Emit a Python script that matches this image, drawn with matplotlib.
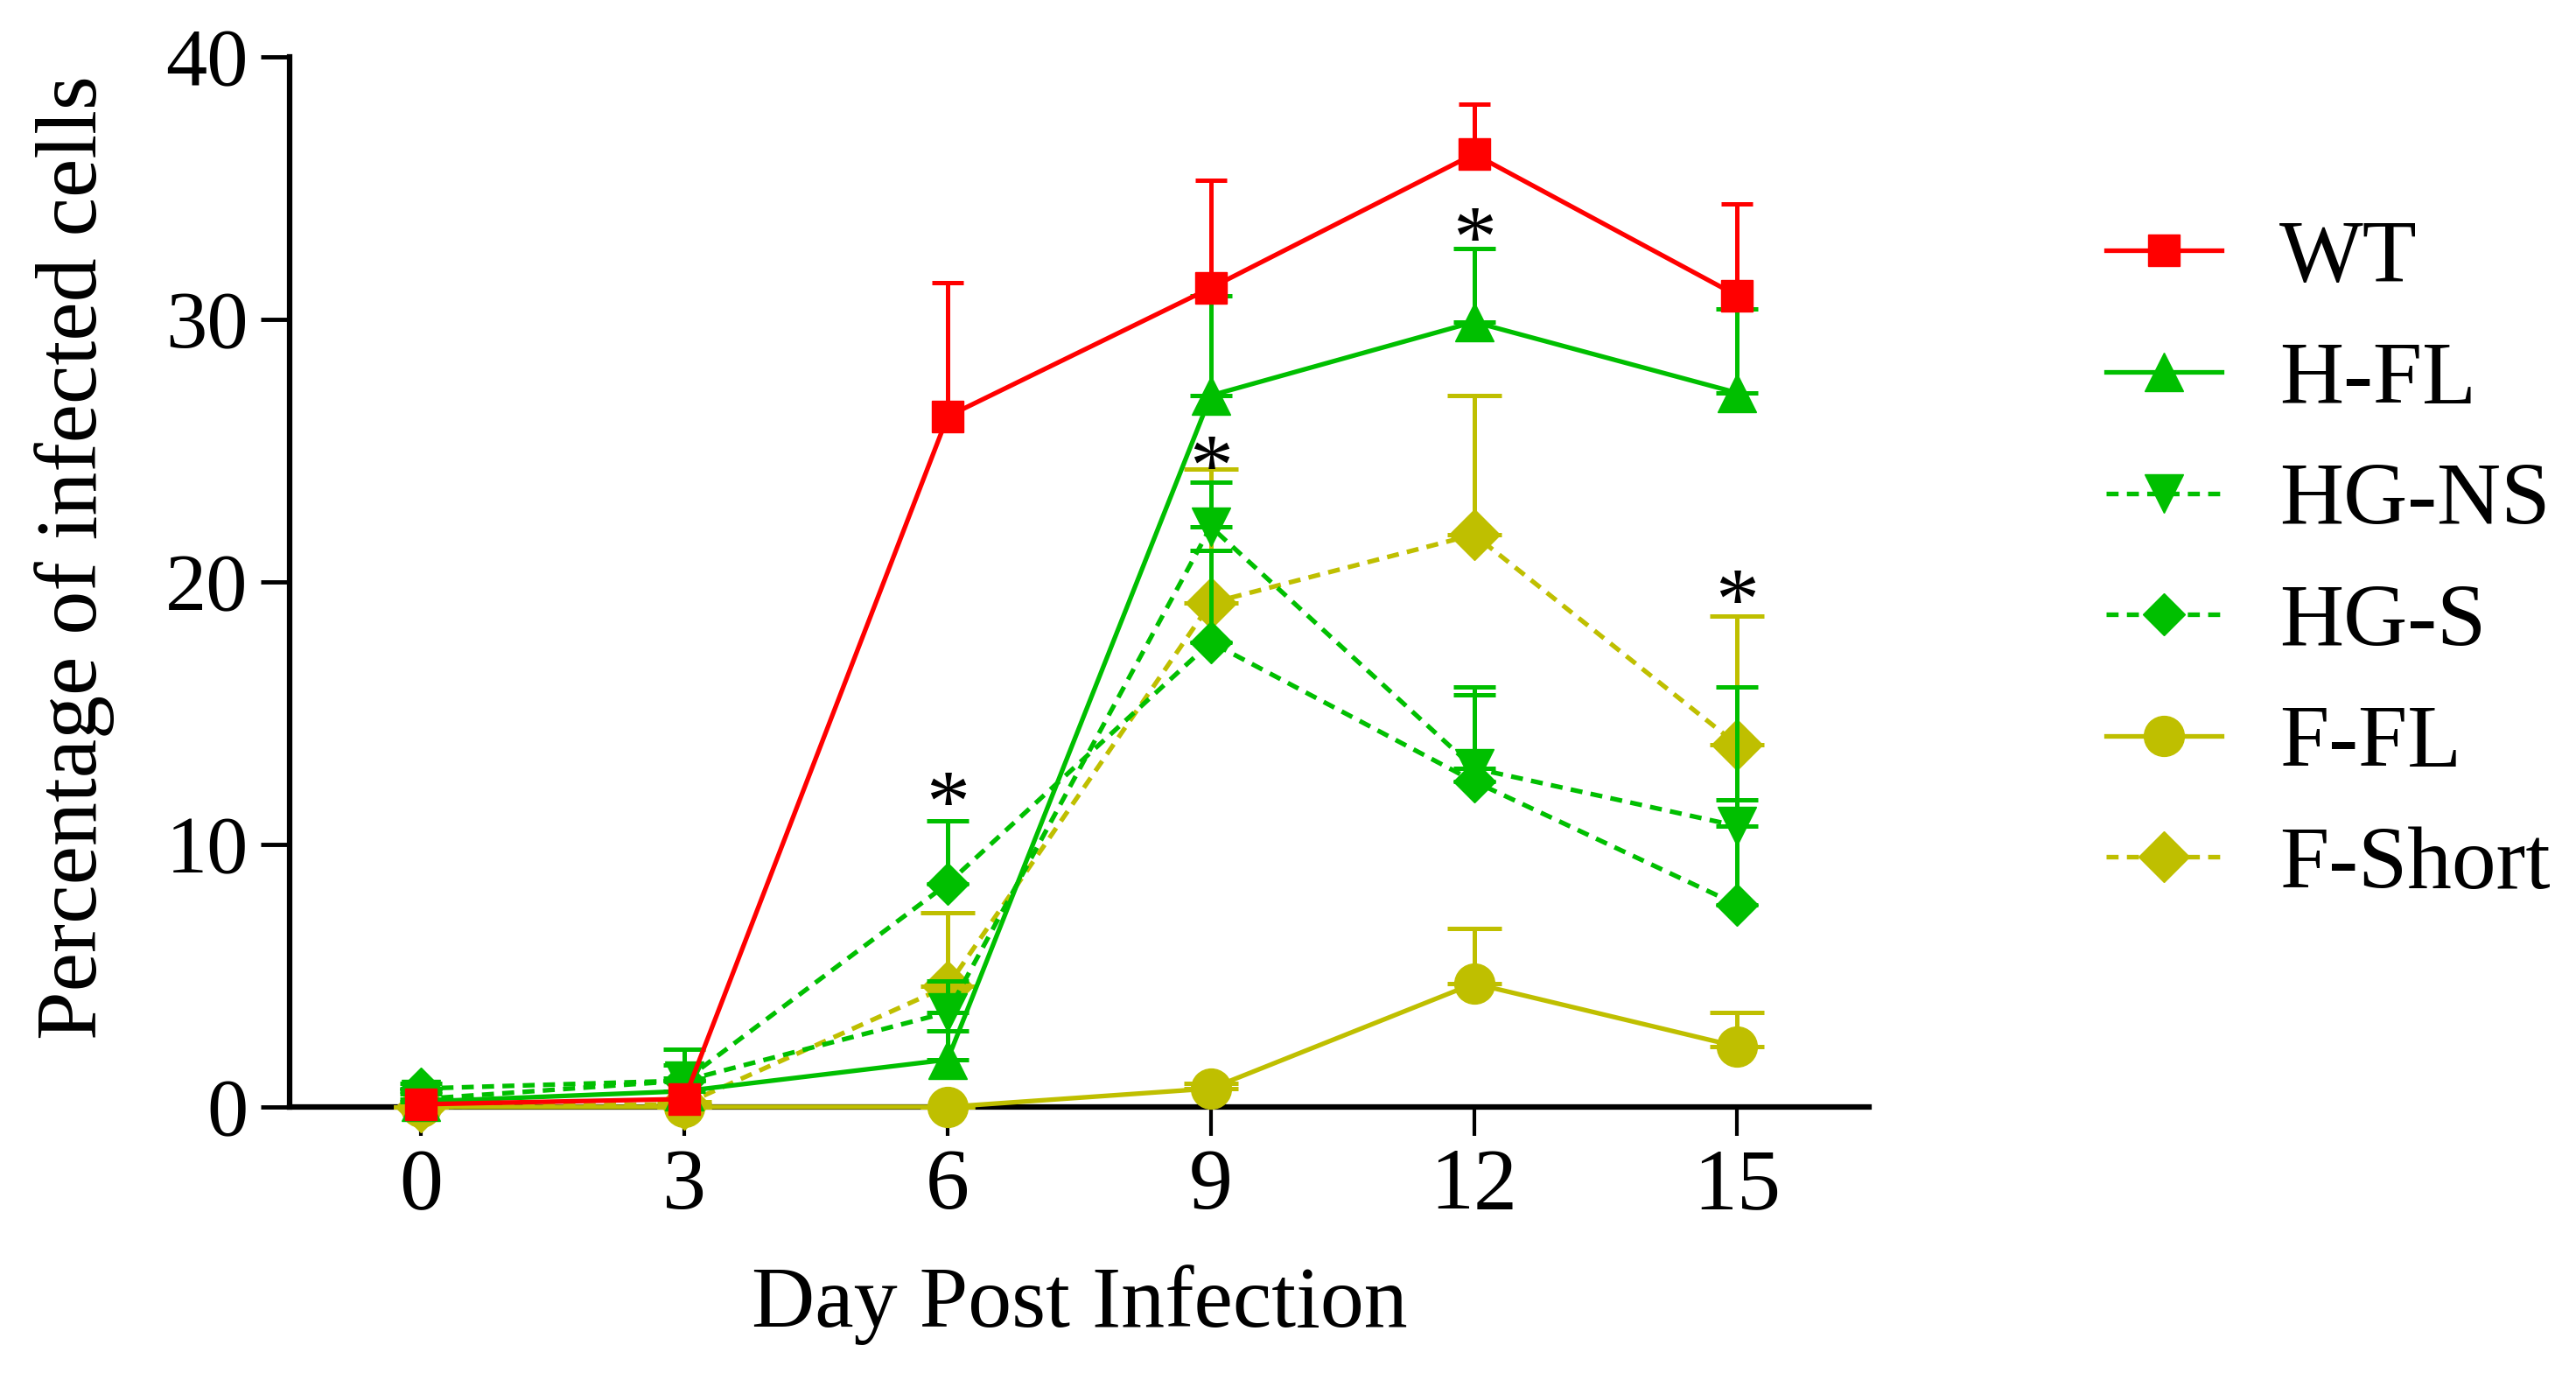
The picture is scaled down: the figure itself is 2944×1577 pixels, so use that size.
import numpy as np
import matplotlib.pyplot as plt

plt.rcParams['font.family'] = ['Liberation Serif', 'DejaVu Serif']

days = [0, 3, 6, 9, 12, 15]

# mean values (% infected cells) and upper SD
wt = [0.1, 0.3, 26.3, 31.2, 36.3, 30.9]
wt_err = [0.2, 0.3, 5.1, 4.1, 1.9, 3.5]
hfl = [0.2, 0.6, 1.8, 27.1, 29.9, 27.2]
hfl_err = [0.3, 0.5, 1.1, 3.8, 2.8, 3.2]
hgns = [0.3, 1.0, 3.6, 22.1, 12.9, 10.7]
hgns_err = [0.3, 1.2, 1.2, 1.7, 3.1, 5.3]
hgs = [0.7, 1.0, 8.5, 17.7, 12.4, 7.7]
hgs_err = [0.2, 0.6, 2.4, 3.5, 3.3, 4.0]
ffl = [0.0, 0.0, 0.0, 0.7, 4.7, 2.3]
ffl_err = [0.0, 0.0, 0.0, 0.2, 2.1, 1.3]
fshort = [0.0, 0.1, 4.6, 19.2, 21.8, 13.8]
fshort_err = [0.0, 0.1, 2.8, 5.1, 5.3, 4.9]

# significance marks
sig_days = [6, 9, 12, 15]
sig_y = [12.1, 24.9, 33.6, 19.8]

RED = '#ff0000'
GREEN = '#00bf00'
OLIVE = '#bfbf00'

series = [
    # label, y, err, color, marker, msize, dashed, capsize, z
    ('F-FL', ffl, ffl_err, OLIVE, 'o', 33, False, 22, 3),
    ('F-Short', fshort, fshort_err, OLIVE, 'D', 30, True, 22, 4),
    ('HG-S', hgs, hgs_err, GREEN, 'D', 24, True, 17, 5),
    ('HG-NS', hgns, hgns_err, GREEN, 'v', 31, True, 17, 6),
    ('H-FL', hfl, hfl_err, GREEN, '^', 31, False, 17, 7),
    ('WT', wt, wt_err, RED, 's', 26, False, 13, 8),
]

fig = plt.figure(figsize=(29.44, 15.77), dpi=100)
ax = fig.add_axes([0.1124, 0.1979, 0.6131, 0.7609])

handles = {}
for label, y, err, col, mk, ms, dashed, cs, z in series:
    eb = ax.errorbar(days, y, yerr=[np.zeros(len(err)), err], fmt='none',
                     ecolor=col, elinewidth=3.6, capsize=cs, capthick=3.6, zorder=z)
    for art in eb.get_children():
        art.set_clip_on(False)
    ln, = ax.plot(days, y, color=col, lw=3.8, marker=mk, markersize=ms,
                  markeredgewidth=1, linestyle='--' if dashed else '-',
                  label=label, zorder=z + 0.5, clip_on=False)
    if dashed:
        ln.set_dashes((2.6, 1.8))
    handles[label] = ln

for d, s in zip(sig_days, sig_y):
    ax.annotate('*', (d, s), xytext=(0, -16), textcoords='offset points',
                fontsize=72, ha='center', va='center', zorder=10)

ax.set_xlim(-1.5, 16.5)
ax.set_ylim(0, 40)
ax.set_xticks(days)
ax.set_yticks([0, 10, 20, 30, 40])
ax.spines['top'].set_visible(False)
ax.spines['right'].set_visible(False)
for sp in ('left', 'bottom'):
    ax.spines[sp].set_linewidth(4.5)
ax.tick_params(axis='x', direction='out', length=24, width=3, pad=10, labelsize=72)
ax.tick_params(axis='y', direction='out', length=24, width=3.5, pad=10, labelsize=68)

ax.set_xlabel('Day Post Infection', fontsize=72)
ax.set_ylabel('Percentage of infected cells', fontsize=72)
ax.xaxis.set_label_coords(0.5, -0.15)
ax.yaxis.set_label_coords(-0.111, 0.523)

order = ['WT', 'H-FL', 'HG-NS', 'HG-S', 'F-FL', 'F-Short']
fig.legend([handles[k] for k in order], order, loc='upper left',
           bbox_to_anchor=(2407 / 2944, 1 - 251 / 1577), frameon=False,
           fontsize=73, handlelength=1.3, handletextpad=0.65,
           labelspacing=0.45, borderpad=0, borderaxespad=0)

fig.savefig('out.png', dpi=100)
